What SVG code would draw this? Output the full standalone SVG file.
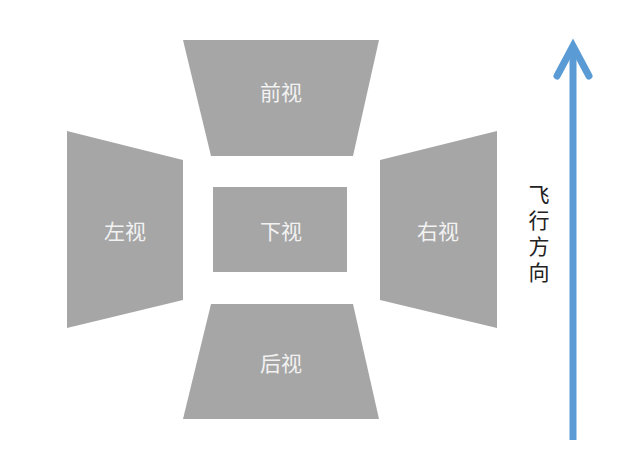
<svg xmlns="http://www.w3.org/2000/svg" width="641" height="468" viewBox="0 0 641 468">
<style>
.v{fill:#A6A6A6;}
.t{font-family:"Noto Sans CJK SC","Noto Sans",sans-serif;font-size:21px;fill:#F2F2F2;text-anchor:middle;dominant-baseline:central;}
.d{font-family:"Noto Sans CJK SC","Noto Sans",sans-serif;font-size:21px;fill:#222222;writing-mode:vertical-rl;letter-spacing:5px;text-anchor:start;}
</style>
<rect width="641" height="468" fill="#FFFFFF"/>
<g id="front"><polygon class="v" points="183,40 379,40 353,156 211,156"/><text class="t" x="281" y="91">前视</text></g>
<g id="left"><polygon class="v" points="67,131 183,160 183,300 67,328"/><text class="t" x="125" y="230">左视</text></g>
<g id="bottom"><rect class="v" x="213" y="187" width="134" height="85"/><text class="t" x="281" y="230">下视</text></g>
<g id="right"><polygon class="v" points="380,160 497,131 497,328 380,300"/><text class="t" x="438" y="230">右视</text></g>
<g id="back"><polygon class="v" points="211,304 353,304 379,419 183,419"/><text class="t" x="281" y="362">后视</text></g>
<g id="connectors">
<line x1="573" y1="440" x2="573" y2="47" stroke="#5B9BD5" stroke-width="7"/>
<polyline points="557,76 573,46 589,76" fill="none" stroke="#5B9BD5" stroke-width="7" stroke-linecap="round" stroke-linejoin="miter"/>
</g>
<g id="label"><text class="d" x="539" y="184">飞行方向</text></g>
</svg>
